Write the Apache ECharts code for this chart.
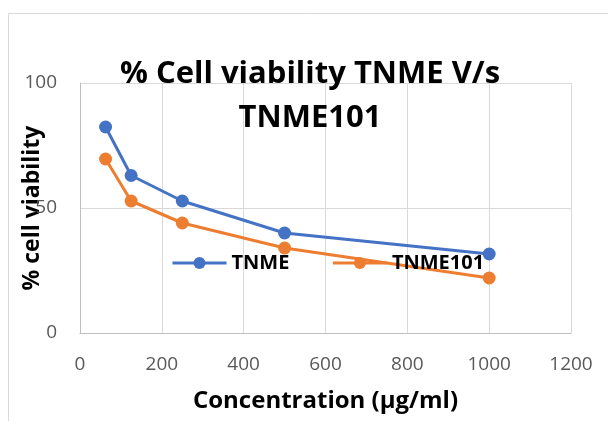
<!DOCTYPE html>
<html>
<head>
<meta charset="utf-8">
<script src="https://cdn.jsdelivr.net/npm/echarts@6/dist/echarts.min.js"></script>
<style>
  html, body { margin: 0; padding: 0; background: #fff; }
  #main { width: 608px; height: 421px; }
</style>
</head>
<body>
<div id="main"></div>
<script>
// concentrations (µg/ml) and % viability
var concentration = [62.5, 125, 250, 500, 1000];
var tnme = [82.4, 63, 52.8, 40, 31.6];
var tnme101 = [69.6, 52.8, 44, 34, 22];
var xTicks = [0, 200, 400, 600, 800, 1000, 1200];
var yTicks = [0, 50, 100];

function pairs(xs, ys) {
    var out = [];
    for (let i = 0; i < xs.length; i++) {
        out.push([xs[i], ys[i]]);
    }
    return out;
}

var font = '"Open Sans", "Noto Sans", sans-serif';
var myChart = echarts.init(document.getElementById('main'));
myChart.setOption({
    animation: false,
    textStyle: { fontFamily: font },
    title: {
        text: '% Cell viability TNME V/s\nTNME101',
        left: 305,
        top: 47,
        textAlign: 'center',
        textStyle: {
            fontSize: 31,
            fontWeight: 'bold',
            color: '#000',
            lineHeight: 44,
            fontFamily: font
        }
    },
    graphic: [{
        type: 'rect',
        silent: true,
        shape: { x: 8.5, y: 13.5, width: 700, height: 500 },
        style: { fill: 'none', stroke: '#d9d9d9', lineWidth: 1 }
    }],
    legend: {
        left: 166,
        top: 248,
        itemWidth: 54,
        itemHeight: 15,
        itemGap: 42,
        lineStyle: { width: 3 },
        textStyle: { fontSize: 20, fontWeight: 'bold', color: '#000', fontFamily: font },
        data: ['TNME', 'TNME101']
    },
    grid: { left: 80, right: 37, top: 83, bottom: 88, outerBoundsMode: 'none', containLabel: false },
    xAxis: {
        type: 'value',
        min: 0,
        max: 1200,
        interval: 200,
        name: 'Concentration (µg/ml)',
        nameLocation: 'middle',
        nameGap: 56,
        nameMoveOverlap: false,
        nameTextStyle: { fontSize: 24, fontWeight: 'bold', color: '#000', fontFamily: font },
        axisLine: { show: true, lineStyle: { color: '#bfbfbf' } },
        axisTick: { show: false },
        axisLabel: {
            margin: 22, fontSize: 19, color: '#595959', fontFamily: font,
            formatter: function (v) { return String(v); }
        },
        splitLine: { show: true, lineStyle: { color: '#d9d9d9' } }
    },
    yAxis: {
        type: 'value',
        min: 0,
        max: 100,
        interval: 50,
        name: '% cell viability',
        nameLocation: 'middle',
        nameGap: 36,
        nameMoveOverlap: false,
        nameTextStyle: { fontSize: 23, fontWeight: 'bold', color: '#000', fontFamily: font },
        axisLine: { show: true, lineStyle: { color: '#bfbfbf' } },
        axisTick: { show: false },
        axisLabel: { margin: 23, fontSize: 19, color: '#595959', fontFamily: font },
        splitLine: { show: true, lineStyle: { color: '#d9d9d9' } }
    },
    series: [
        {
            name: 'TNME',
            type: 'line',
            data: pairs(concentration, tnme),
            symbol: 'circle',
            symbolSize: 13,
            itemStyle: { color: '#4472c4' },
            lineStyle: { width: 3, color: '#4472c4' }
        },
        {
            name: 'TNME101',
            type: 'line',
            data: pairs(concentration, tnme101),
            symbol: 'circle',
            symbolSize: 13,
            itemStyle: { color: '#ed7d31' },
            lineStyle: { width: 3, color: '#ed7d31' }
        }
    ]
});
</script>
</body>
</html>
